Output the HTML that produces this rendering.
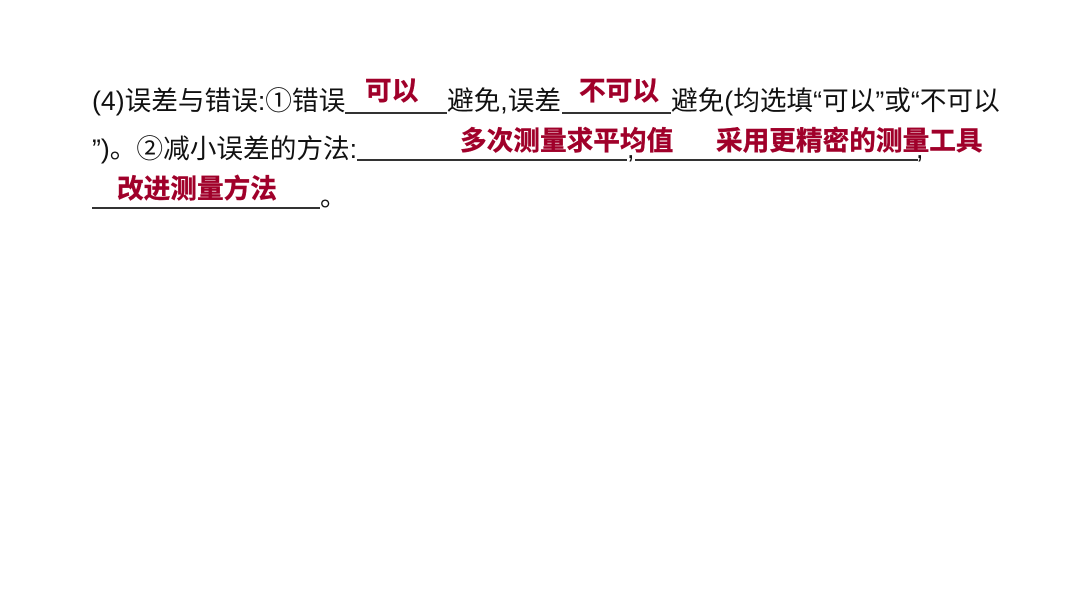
<!DOCTYPE html>
<html lang="zh">
<head>
<meta charset="utf-8">
<style>
html,body{margin:0;padding:0;background:#fff}
#p{position:relative;width:1066px;height:600px;overflow:hidden;background:#fff;font-family:"Liberation Sans","Noto Sans CJK SC",sans-serif;font-size:26.67px;color:#111}
#p span{position:absolute;white-space:nowrap;line-height:36px}
#p i{position:absolute;height:2px;background:#333}
#p b{position:absolute;white-space:nowrap;line-height:36px;color:#a0002a;font-weight:700;-webkit-text-stroke:0.4px #a0002a}
</style>
</head>
<body>
<div id="p">
<span style="left:92px;top:83px">(4)误差与错误:①错误</span>
<i style="left:345px;top:112px;width:102px"></i>
<span style="left:447px;top:83px">避免,误差</span>
<i style="left:562px;top:112px;width:109px"></i>
<span style="left:671px;top:83px">避免(均选填“可以”或“不可以</span>
<span style="left:92px;top:131px">”)。②减小误差的方法:</span>
<i style="left:357px;top:159px;width:270px"></i>
<span style="left:627px;top:131px">,</span>
<i style="left:635px;top:159px;width:283px"></i>
<span style="left:916px;top:131px">,</span>
<i style="left:92px;top:207px;width:228px"></i>
<span style="left:320px;top:179px">。</span>
<b style="left:365px;top:73px">可以</b>
<b style="left:579px;top:73px">不可以</b>
<b style="left:460px;top:123px">多次测量求平均值</b>
<b style="left:716px;top:123px">采用更精密的测量工具</b>
<b style="left:117px;top:171px">改进测量方法</b>
</div>
</body>
</html>
